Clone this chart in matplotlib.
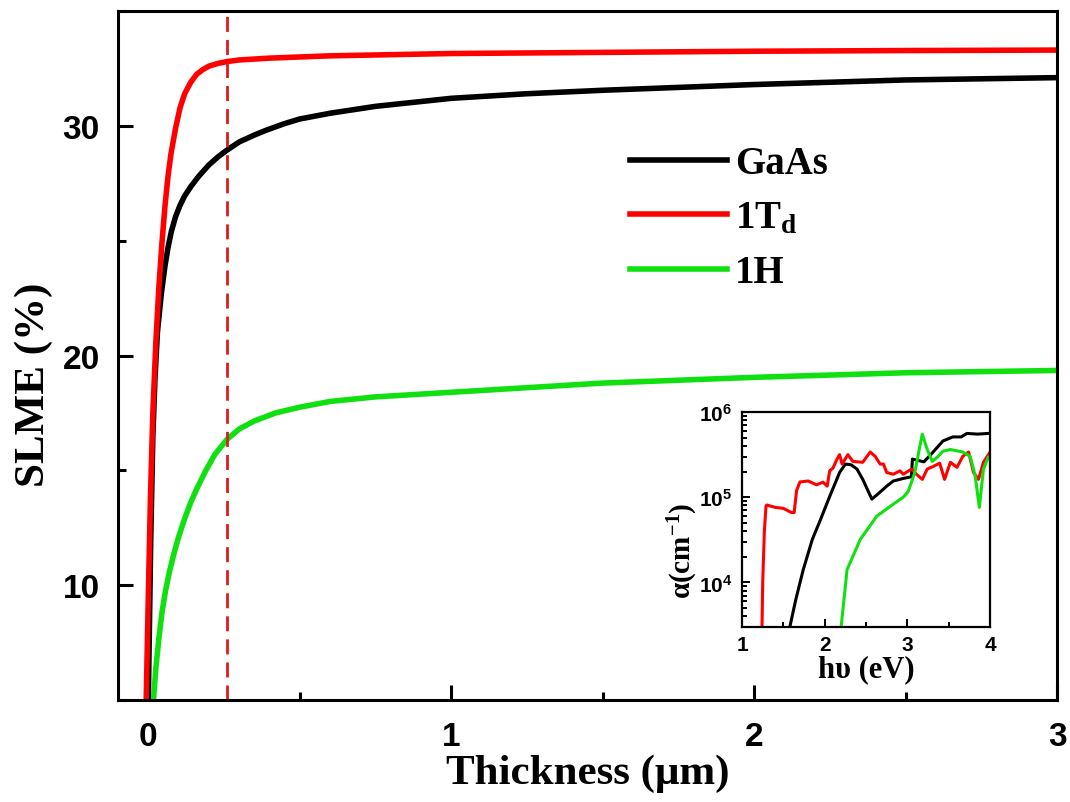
import numpy as np
import matplotlib
matplotlib.use("Agg")
import matplotlib.pyplot as plt
from matplotlib.ticker import MultipleLocator, LogLocator, NullFormatter

# main panel: SLME vs thickness (um)
gaas_t = [0.0, 0.008, 0.015, 0.022, 0.03, 0.043, 0.055, 0.065, 0.076, 0.09, 0.105,
          0.12, 0.14, 0.166, 0.2, 0.23, 0.255, 0.3, 0.35, 0.387, 0.45, 0.5,
          0.6, 0.75, 1.0, 1.25, 1.5, 2.0, 2.5, 3.0]
gaas_slme = [5.0, 12.0, 16.5, 19.0, 21.0, 22.7, 23.9, 24.7, 25.4, 26.05, 26.55,
             26.95, 27.35, 27.8, 28.3, 28.65, 28.9, 29.3, 29.6, 29.8, 30.1, 30.3,
             30.55, 30.85, 31.2, 31.4, 31.55, 31.8, 32.0, 32.1]

td_t = [-0.007, 0.0, 0.007, 0.015, 0.025, 0.035, 0.045, 0.055, 0.065, 0.075, 0.09,
        0.105, 0.12, 0.14, 0.16, 0.18, 0.2, 0.23, 0.26, 0.3, 0.4, 0.6,
        1.0, 1.5, 2.0, 2.5, 3.0]
td_slme = [5.0, 9.5, 13.8, 17.5, 20.6, 23.0, 24.9, 26.5, 27.8, 28.8, 29.9,
           30.8, 31.4, 31.9, 32.25, 32.45, 32.6, 32.72, 32.8, 32.87, 32.95, 33.05,
           33.15, 33.2, 33.25, 33.28, 33.3]

h_t = [0.017, 0.025, 0.035, 0.045, 0.056, 0.07, 0.085, 0.1, 0.12, 0.14, 0.16,
       0.19, 0.22, 0.26, 0.3, 0.35, 0.42, 0.5, 0.6, 0.75, 1.0, 1.25,
       1.5, 2.0, 2.5, 3.0]
h_slme = [5.0, 6.4, 7.7, 8.8, 9.7, 10.6, 11.4, 12.1, 12.9, 13.6, 14.2,
          15.0, 15.7, 16.35, 16.8, 17.15, 17.5, 17.75, 18.0, 18.2, 18.4, 18.6,
          18.8, 19.05, 19.25, 19.35]

marked_thickness = 0.26

# inset: absorption coefficient vs photon energy (eV)
td_e = [1.24, 1.25, 1.27, 1.29, 1.30, 1.40, 1.50, 1.60, 1.63, 1.66, 1.70, 1.80,
        1.90, 1.98, 2.03, 2.06, 2.10, 2.15, 2.18, 2.21, 2.28, 2.34, 2.40, 2.46,
        2.55, 2.61, 2.67, 2.71, 2.75, 2.83, 2.91, 2.95, 3.05, 3.11, 3.18, 3.24,
        3.31, 3.39, 3.45, 3.52, 3.60, 3.67, 3.74, 3.80, 3.86, 3.92, 4.00]
td_alpha = [2.5e3, 1e4, 4e4, 7.9e4, 8.1e4, 7.6e4, 7.4e4, 6.6e4, 6.6e4, 1.2e5, 1.51e5, 1.55e5,
            1.4e5, 1.5e5, 1.35e5, 2.04e5, 2.2e5, 2.82e5, 3.16e5, 2.45e5, 3.16e5, 2.63e5, 2.6e5, 2.57e5,
            3.39e5, 3.02e5, 2.45e5, 2.45e5, 1.95e5, 1.86e5, 2.04e5, 1.86e5, 2.14e5, 1.86e5, 1.62e5, 2.14e5,
            2.29e5, 2.51e5, 1.62e5, 2.57e5, 2.24e5, 3.02e5, 3.39e5, 1.95e5, 1.62e5, 2.57e5, 3.39e5]

gaas_e = [1.56, 1.65, 1.74, 1.85, 1.95, 2.06, 2.18, 2.25, 2.32, 2.39, 2.46, 2.57,
          2.67, 2.75, 2.83, 2.95, 3.05, 3.06, 3.20, 3.30, 3.43, 3.55, 3.65, 3.72, 3.85, 4.00]
gaas_alpha = [2.5e3, 6.3e3, 1.41e4, 3.2e4, 5.5e4, 1.02e5, 1.95e5, 2.45e5, 2.4e5, 2.14e5, 1.62e5, 9.5e4,
              1.15e5, 1.35e5, 1.55e5, 1.66e5, 1.74e5, 2.8e5, 2.6e5, 3.3e5, 4.57e5, 5.1e5, 5.1e5, 5.6e5, 5.5e5, 5.62e5]

h_e = [2.19, 2.27, 2.43, 2.63, 2.83, 2.95, 3.01, 3.09, 3.14, 3.18, 3.24, 3.30,
       3.37, 3.43, 3.52, 3.60, 3.67, 3.76, 3.82, 3.87, 3.92, 3.98]
h_alpha = [2.5e3, 1.41e4, 3.2e4, 6e4, 8.3e4, 1e5, 1.17e5, 1.95e5, 3.5e5, 5.5e5, 3.63e5, 2.63e5,
           3.0e5, 3.47e5, 3.63e5, 3.5e5, 3.39e5, 3.02e5, 1.78e5, 7.6e4, 2.14e5, 2.95e5]

labels = ["GaAs", r"1T$_{\mathrm{d}}$", "1H"]
colors = ["black", "#ff0000", "#10e010"]

plt.rcParams["font.family"] = "Liberation Sans"
plt.rcParams["font.weight"] = "bold"
plt.rcParams["mathtext.fontset"] = "custom"
plt.rcParams["mathtext.rm"] = "Liberation Serif:bold"
plt.rcParams["mathtext.it"] = "Liberation Serif:bold"
plt.rcParams["mathtext.bf"] = "Liberation Serif:bold"

serif = {"family": "Liberation Serif", "weight": "bold"}

fig = plt.figure(figsize=(10.7, 8.03), dpi=100)
ax = fig.add_axes([0.1103, 0.127, 0.8776, 0.858])

ax.plot(gaas_t, gaas_slme, color=colors[0], lw=4, label=labels[0])
ax.plot(td_t, td_slme, color=colors[1], lw=4, label=labels[1])
ax.plot(h_t, h_slme, color=colors[2], lw=4, label=labels[2])
ax.axvline(marked_thickness, color="#dd1c1c", lw=2, dashes=(5.4, 2.9))

ax.set_xlim(-0.1, 3.0)
ax.set_ylim(5, 35)
ax.xaxis.set_major_locator(MultipleLocator(1))
ax.xaxis.set_minor_locator(MultipleLocator(0.5))
ax.yaxis.set_major_locator(MultipleLocator(10))
ax.yaxis.set_minor_locator(MultipleLocator(5))
ax.tick_params(which="both", direction="in", top=False, right=False, width=2.2, labelsize=24)
ax.tick_params(which="major", length=11)
ax.tick_params(which="minor", length=6)
ax.tick_params(axis="x", pad=15)
ax.tick_params(axis="y", pad=13)
for s in ax.spines.values():
    s.set_linewidth(2.2)

ax.set_xlabel("Thickness (μm)", fontdict=serif, fontsize=31, labelpad=1)
ax.set_ylabel("SLME (%)", fontdict=serif, fontsize=31)
ax.yaxis.set_label_coords(-0.069, 0.459)

leg = ax.legend(loc="upper left", bbox_to_anchor=(0.508, 0.856), frameon=False,
                prop={"family": "Liberation Serif", "weight": "bold", "size": 28},
                handlelength=2.5, handletextpad=0.2, labelspacing=0.45)

# inset
ins = fig.add_axes([0.6935, 0.2179, 0.2318, 0.2678])
ins.plot(gaas_e, gaas_alpha, color=colors[0], lw=2.2)
ins.plot(td_e, td_alpha, color=colors[1], lw=2.2)
ins.plot(h_e, h_alpha, color=colors[2], lw=2.2)
ins.set_yscale("log")
ins.set_xlim(1, 4)
ins.set_ylim(3e3, 1e6)
ins.xaxis.set_major_locator(MultipleLocator(1))
ins.xaxis.set_minor_locator(MultipleLocator(0.5))
ins.yaxis.set_major_locator(LogLocator(base=10, numticks=10))
ins.yaxis.set_minor_locator(LogLocator(base=10, subs=np.arange(2, 10), numticks=10))
ins.yaxis.set_minor_formatter(NullFormatter())
ins.tick_params(which="both", direction="in", top=False, right=False, width=1.4, labelsize=15)
ins.tick_params(which="major", length=6)
ins.tick_params(which="minor", length=3.5)
ins.tick_params(axis="x", pad=6)
ins.tick_params(axis="y", pad=7)
for s in ins.spines.values():
    s.set_linewidth(1.6)
ins.set_xlabel("hυ (eV)", fontdict=serif, fontsize=22, labelpad=0)
ins.set_ylabel(r"α(cm$^{-1}$)", fontdict=serif, fontsize=21)
ins.yaxis.set_label_coords(-0.17, 0.36)

fig.savefig("out.png", dpi=100)
